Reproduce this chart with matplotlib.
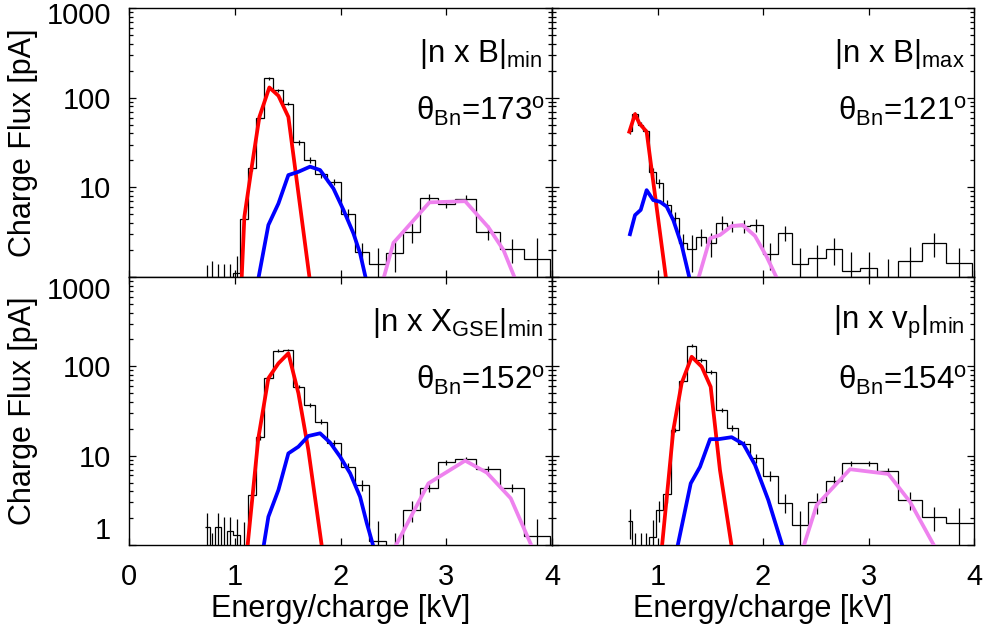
import matplotlib
matplotlib.use('Agg')
import matplotlib.pyplot as plt
from matplotlib.ticker import NullFormatter
from matplotlib.transforms import ScaledTranslation
import numpy as np

plt.rcParams['font.family'] = ['Liberation Sans Narrow', 'Liberation Sans', 'DejaVu Sans']
plt.rcParams['mathtext.fontset'] = 'custom'
plt.rcParams['mathtext.rm'] = 'Liberation Sans'
plt.rcParams['mathtext.it'] = 'Liberation Sans'
REG = ['Liberation Sans', 'DejaVu Sans']

# energy steps (bin edges, kV)
edges = [0.716, 0.763, 0.813, 0.867, 0.924, 0.985, 1.050, 1.129, 1.201, 1.280,
         1.365, 1.460, 1.555, 1.659, 1.760, 1.873, 2.003, 2.138, 2.274, 2.431,
         2.595, 2.753, 2.920, 3.084, 3.283, 3.510, 3.737, 3.983, 4.250]

# measured charge flux per bin [pA] and errors
tl_flux = [0.5, 0.5, 0.5, 0.5, 0.5, 1.1, 4.4, 16.3, 60, 164, 121, 86, 32, 20.3,
           14.0, 11.5, 5.1, 1.88, 1.38, 1.84, 3.2, 7.65, 6.5, 7.5, 3.2, 2.04, 1.6, 0.5]
tl_err = [0.86, 1.0, 0.9, 0.9, 0.9, 0.6, 0.5, 0.9, 2.5, 6, 5, 4, 2, 1.5,
          1.2, 1.0, 0.7, 0.5, 0.7, 0.7, 0.8, 0.8, 0.6, 0.8, 0.6, 0.6, 1.1, 0.8]

tr_flux = [42, 65, 50, 42, 14.9, 11.1, 6.35, 4.6, 2.38, 2.04, 2.81, 2.38, 4.03, 3.7,
           3.7, 3.8, 1.8, 3.12, 1.4, 1.62, 2.04, 1.18, 1.25, 0.6, 1.51, 2.38, 1.42, 0.5]
tr_err = [3, 4, 3, 3, 1.5, 1.2, 0.8, 0.7, 0.6, 0.9, 0.6, 0.7, 0.7, 0.5,
          0.6, 0.6, 0.6, 0.6, 0.7, 0.65, 0.67, 0.7, 0.67, 1.0, 0.67, 0.7, 0.67, 0.8]

bl_flux = [1.58, 0.8, 1.58, 0.8, 1.45, 1.28, 0.6, 3.63, 16.1, 73.6, 150, 153, 59.3, 37,
           24, 13.8, 7.5, 4.7, 1.12, 0.6, 2.47, 4.38, 8.4, 9.2, 7.1, 4.38, 1.26, 0.5]
bl_err = [0.7, 0.55, 0.7, 1.27, 0.6, 0.65, 1.2, 0.5, 1, 2.5, 5, 5, 2.5, 2,
          1.5, 1.0, 0.8, 0.7, 0.75, 0.75, 0.65, 0.5, 0.5, 0.5, 0.5, 0.5, 0.7, 0.8]

br_flux = [1.86, 0.6, 0.6, 0.6, 1.24, 2.47, 3.72, 19.4, 69, 171, 118, 86, 32.5, 20.3,
           13.5, 9.35, 5.97, 2.98, 1.67, 3.0, 5.25, 8.2, 8.2, 6.7, 3.19, 2.04, 1.78, 1.78]
br_err = [0.7, 0.75, 0.77, 0.75, 0.66, 0.65, 0.8, 1, 2.5, 6, 5, 4, 2, 1.5,
          1, 1, 0.8, 0.7, 0.75, 0.8, 0.7, 0.6, 0.6, 0.6, 0.7, 0.6, 0.8, 0.8]

# fitted components: (energy, flux)
tl_red = ([1.06, 1.091, 1.161, 1.233, 1.327, 1.413, 1.507, 1.72],
          [0.69, 4.7, 17, 61, 130, 105, 61, 0.75])
tl_blue = ([1.215, 1.318, 1.413, 1.507, 1.602, 1.712, 1.807, 1.933, 2.028, 2.122, 2.185, 2.25],
           [0.85, 3.8, 6.6, 13.7, 14.9, 17, 15.6, 9.7, 5.6, 3.07, 1.84, 0.85])
tl_pink = ([2.40, 2.501, 2.595, 2.841, 3.179, 3.399, 3.541, 3.66],
           [0.9, 2.41, 3.2, 6.8, 7.0, 3.58, 2.0, 0.9])

tr_red = ([0.733, 0.787, 0.828, 0.897, 1.09],
          [41.7, 65.6, 51.7, 41.7, 0.8])
tr_blue = ([0.739, 0.787, 0.841, 0.897, 0.96, 1.024, 1.087, 1.15, 1.229, 1.315],
           [3.0, 4.9, 5.6, 9.3, 7.2, 6.9, 6.1, 4.3, 2.27, 0.85])
tr_pink = ([1.38, 1.498, 1.592, 1.703, 1.807, 1.924, 2.035, 2.145],
           [0.9, 2.7, 2.94, 3.7, 3.8, 2.87, 1.68, 0.9])

bl_red = ([1.118, 1.223, 1.318, 1.413, 1.507, 1.602, 1.696, 1.83],
          [0.9, 15.7, 73.6, 108, 140, 50, 11.6, 0.85])
bl_blue = ([1.265, 1.318, 1.413, 1.507, 1.602, 1.696, 1.807, 1.902, 1.996, 2.091, 2.185, 2.249, 2.318],
           [0.85, 2.07, 4.13, 10.6, 12.6, 16.6, 17.8, 14, 9.75, 6.35, 3.47, 1.75, 0.9])
bl_pink = ([2.505, 2.832, 3.179, 3.384, 3.61, 3.82],
           [0.9, 4.9, 8.8, 6.45, 3.33, 0.9])

br_red = ([1.04, 1.15, 1.229, 1.324, 1.419, 1.504, 1.592, 1.71],
          [0.9, 19.4, 65, 128, 99, 59, 6.9, 0.85])
br_blue = ([1.18, 1.315, 1.403, 1.498, 1.577, 1.703, 1.814, 1.924, 2.05, 2.20],
           [0.85, 4.9, 7.5, 15.3, 15.3, 16.1, 13.5, 7.9, 3.19, 0.85])
br_pink = ([2.37, 2.509, 2.825, 3.188, 3.393, 3.64],
           [0.85, 2.8, 7.05, 6.24, 3.05, 0.9])

labels = [r'$\text{|n x B|}_\text{min}$', r'$\text{|n x B|}_\text{max}$',
          r'$\text{|n x X}_\text{GSE}\text{|}_\text{min}$', r'$\text{|n x v}_\text{p}\text{|}_\text{min}$']
thetas = [173, 121, 152, 154]

fig = plt.figure(figsize=(9.84, 6.33), dpi=100)
W, H = 984.0, 633.0
boxes = [(129, 8, 423, 269), (552, 8, 422, 269), (129, 277, 423, 268), (552, 277, 422, 268)]
panels = [(tl_flux, tl_err, tl_red, tl_blue, tl_pink),
          (tr_flux, tr_err, tr_red, tr_blue, tr_pink),
          (bl_flux, bl_err, bl_red, bl_blue, bl_pink),
          (br_flux, br_err, br_red, br_blue, br_pink)]

e = np.array(edges)
centers = 0.5 * (e[:-1] + e[1:])

for i, (box, data) in enumerate(zip(boxes, panels)):
    x0, y0, w, h = box
    ax = fig.add_axes([x0 / W, 1 - (y0 + h) / H, w / W, h / H])
    flux, err, red, blue, pink = data
    ax.set_yscale('log', nonpositive='clip')
    ax.stairs(flux, edges, baseline=None, color='black', lw=0.9, zorder=2)
    ax.errorbar(centers, flux, yerr=err, fmt='none', ecolor='black', elinewidth=0.9,
                capsize=0, zorder=2)
    ax.plot(red[0], red[1], color='red', lw=2.7, zorder=3)
    ax.plot(blue[0], blue[1], color='blue', lw=2.7, zorder=3)
    ax.plot(pink[0], pink[1], color='violet', lw=2.7, zorder=3)
    ax.set_xlim(0, 4)
    ax.set_ylim(1, 1000)

    left = i % 2 == 0
    bottom = i >= 2
    ax.set_xticks([0, 1, 2, 3, 4])
    if bottom:
        ax.set_xticklabels(['0' if left else '', '1', '2', '3', '4'])
        ax.set_xlabel('Energy/charge [kV]', fontsize=22, family=REG, labelpad=2)
    else:
        ax.set_xticklabels([])
    ax.set_yticks([1, 10, 100, 1000])
    ax.yaxis.set_minor_formatter(NullFormatter())
    ax.tick_params(which='both', direction='in', top=True, right=True, width=0.9,
                   labelsize=21)
    ax.tick_params(which='major', length=5, pad=13)
    ax.tick_params(which='minor', length=2.6)
    if left:
        ylab = ['1' if bottom else '', '10', '100', '1000']
        ax.set_yticklabels(ylab)
        tl = ax.get_yticklabels()
        tl[3].set_verticalalignment('top')
        tl[0].set_verticalalignment('bottom')
        if not bottom:
            tl[3].set_transform(tl[3].get_transform() +
                                ScaledTranslation(0, 0.06, fig.dpi_scale_trans))
        ax.set_ylabel('Charge Flux [pA]', fontsize=22, family=REG, labelpad=6)
    else:
        ax.set_yticklabels([])
    for s in ax.spines.values():
        s.set_linewidth(1.0)

    ax.text(0.978, 0.83, labels[i], transform=ax.transAxes, ha='right', va='center',
            fontsize=22.5)
    ax.text(0.984, 0.615, r'$\text{θ}_\text{Bn}\text{=%d}^\text{o}$' % thetas[i],
            transform=ax.transAxes, ha='right', va='center', fontsize=22.5)

fig.savefig('out.png', dpi=100)
